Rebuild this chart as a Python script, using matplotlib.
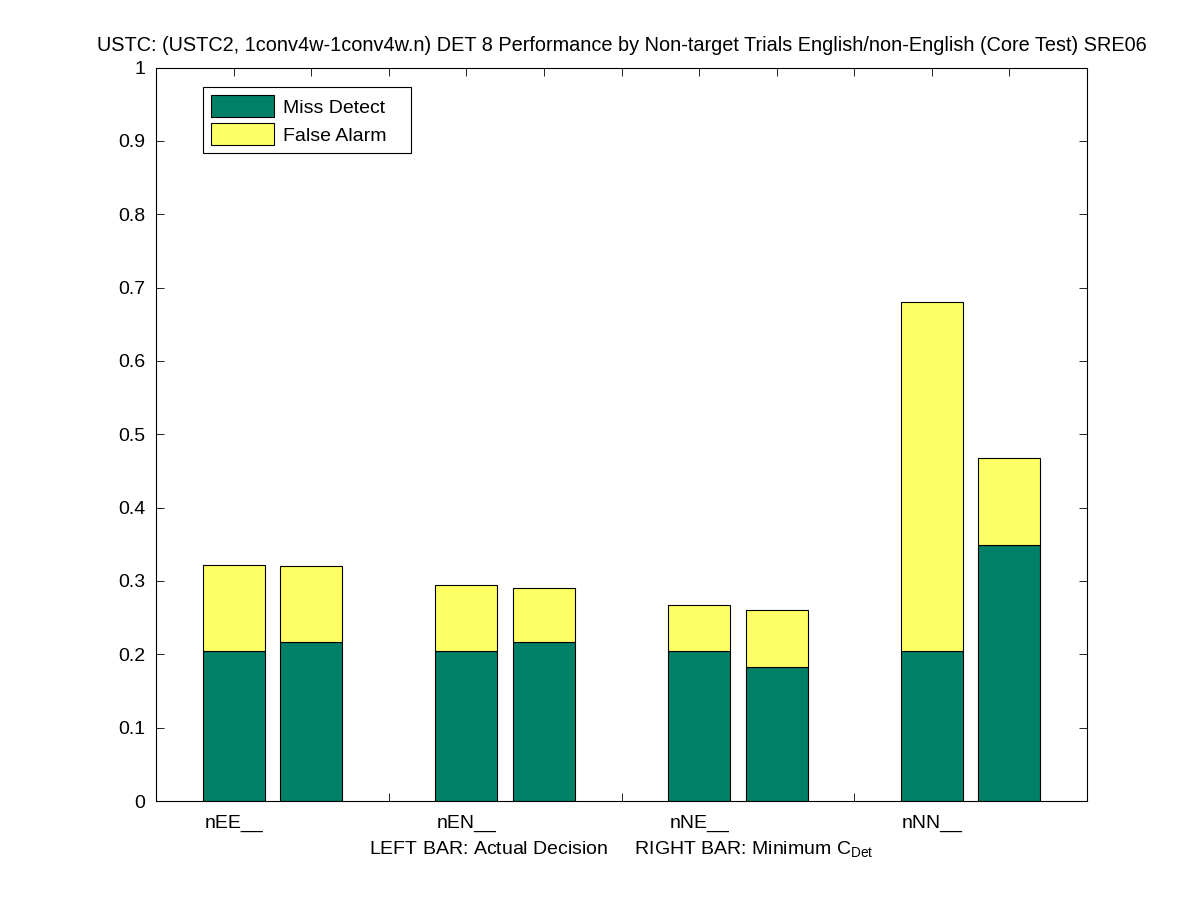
import matplotlib
matplotlib.use("Agg")
import matplotlib.pyplot as plt
import numpy as np
from matplotlib.patches import Patch

plt.rcParams['font.family'] = ['Liberation Sans', 'DejaVu Sans']
plt.rcParams['mathtext.fontset'] = 'custom'
plt.rcParams['mathtext.rm'] = 'Liberation Sans'
plt.rcParams['mathtext.it'] = 'Liberation Sans'

categories = ['nEE__', 'nEN__', 'nNE__', 'nNN__']
# Left bar: Actual Decision; Right bar: Minimum C_Det
actual_miss = [0.2045, 0.2045, 0.2045, 0.2045]
actual_total = [0.322, 0.2947, 0.2673, 0.680]
min_miss = [0.2168, 0.2168, 0.1826, 0.3493]
min_total = [0.3206, 0.2906, 0.2605, 0.468]

green = '#008066'
yellow = '#ffff66'
fs = 14

fig = plt.figure(figsize=(12.01, 9.0), dpi=100)
ax = fig.add_axes([0.13, 0.11, 0.775, 0.815])
ax.set_axisbelow(True)

left_x = np.arange(len(categories)) * 3 + 1
right_x = left_x + 1
w = 0.8

for xs, miss, total in [(left_x, actual_miss, actual_total), (right_x, min_miss, min_total)]:
    fa = np.array(total) - np.array(miss)
    ax.bar(xs, miss, width=w, color=green, edgecolor='black', linewidth=0.8, zorder=2)
    ax.bar(xs, fa, bottom=miss, width=w, color=yellow, edgecolor='black', linewidth=0.8, zorder=2)

ax.set_xlim(0, 12)
ax.set_ylim(0, 1)
ax.set_xticks(np.arange(0, 13))
labels = [''] * 13
for i, c in zip(left_x, categories):
    labels[i] = c
ax.set_xticklabels(labels, fontsize=fs)
ax.set_yticks(np.arange(0, 1.01, 0.1))
ax.set_yticklabels(['0', '0.1', '0.2', '0.3', '0.4', '0.5', '0.6', '0.7', '0.8', '0.9', '1'], fontsize=fs)
ax.tick_params(direction='in', top=True, right=True, length=6, width=0.6)
ax.tick_params(axis='x', pad=10)
ax.tick_params(axis='y', pad=8)
for s in ax.spines.values():
    s.set_linewidth(0.8)

ax.set_xlabel('LEFT BAR: Actual Decision     RIGHT BAR: Minimum C$_{\\mathrm{Det}}$', fontsize=fs, labelpad=5)
ax.set_title('USTC: (USTC2, 1conv4w-1conv4w.n) DET 8 Performance by Non-target Trials English/non-English (Core Test) SRE06', fontsize=14.3, pad=12)

handles = [Patch(facecolor=green, edgecolor='black', linewidth=0.8, label='Miss Detect   '),
           Patch(facecolor=yellow, edgecolor='black', linewidth=0.8, label='False Alarm   ')]
leg = ax.legend(handles=handles, loc='upper left', bbox_to_anchor=(0.05, 0.973), fontsize=fs,
                frameon=True, fancybox=False, edgecolor='black', framealpha=1,
                handlelength=3.25, handleheight=1.35, borderpad=0.42, labelspacing=0.3, handletextpad=0.45,
                borderaxespad=0)
leg.get_frame().set_linewidth(0.8)

fig.savefig('out.png', dpi=100, facecolor='white')
